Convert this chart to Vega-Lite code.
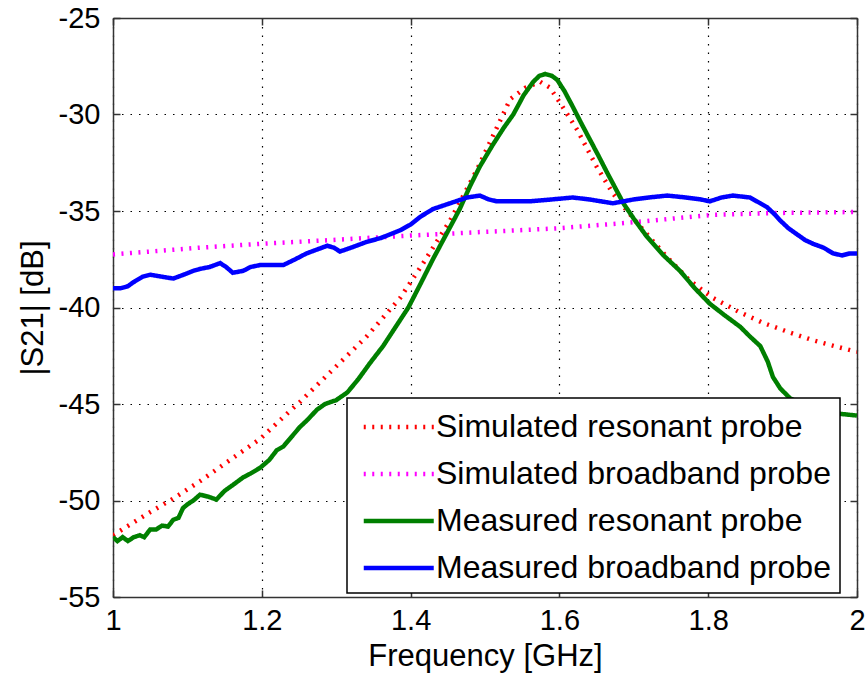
{
  "$schema": "https://vega.github.io/schema/vega-lite/v6.json",
  "width": 744,
  "height": 579,
  "autosize": "none",
  "padding": {"left": 113, "top": 18, "right": 11, "bottom": 83},
  "background": "white",
  "config": {
    "font": "Liberation Sans",
    "view": {"stroke": null},
    "axis": {
      "domainColor": "#333333",
      "domainWidth": 1.5,
      "tickColor": "#333333",
      "tickWidth": 1.5,
      "labelColor": "black",
      "titleColor": "black",
      "titleFontWeight": "normal",
      "labelFont": "Liberation Sans",
      "titleFont": "Liberation Sans"
    }
  },
  "datasets": {
    "curves": [
      {"series": "Simulated resonant probe", "f": 1.000, "s21": -51.8},
      {"series": "Simulated resonant probe", "f": 1.050, "s21": -50.6},
      {"series": "Simulated resonant probe", "f": 1.081, "s21": -49.9},
      {"series": "Simulated resonant probe", "f": 1.117, "s21": -49.0},
      {"series": "Simulated resonant probe", "f": 1.161, "s21": -47.8},
      {"series": "Simulated resonant probe", "f": 1.198, "s21": -46.8},
      {"series": "Simulated resonant probe", "f": 1.234, "s21": -45.5},
      {"series": "Simulated resonant probe", "f": 1.251, "s21": -44.9},
      {"series": "Simulated resonant probe", "f": 1.296, "s21": -43.2},
      {"series": "Simulated resonant probe", "f": 1.341, "s21": -41.5},
      {"series": "Simulated resonant probe", "f": 1.386, "s21": -39.5},
      {"series": "Simulated resonant probe", "f": 1.417, "s21": -37.7},
      {"series": "Simulated resonant probe", "f": 1.453, "s21": -35.5},
      {"series": "Simulated resonant probe", "f": 1.490, "s21": -32.8},
      {"series": "Simulated resonant probe", "f": 1.534, "s21": -29.2},
      {"series": "Simulated resonant probe", "f": 1.555, "s21": -28.6},
      {"series": "Simulated resonant probe", "f": 1.574, "s21": -28.3},
      {"series": "Simulated resonant probe", "f": 1.587, "s21": -28.6},
      {"series": "Simulated resonant probe", "f": 1.601, "s21": -29.4},
      {"series": "Simulated resonant probe", "f": 1.624, "s21": -30.8},
      {"series": "Simulated resonant probe", "f": 1.650, "s21": -32.7},
      {"series": "Simulated resonant probe", "f": 1.672, "s21": -34.1},
      {"series": "Simulated resonant probe", "f": 1.704, "s21": -35.6},
      {"series": "Simulated resonant probe", "f": 1.745, "s21": -37.4},
      {"series": "Simulated resonant probe", "f": 1.775, "s21": -38.6},
      {"series": "Simulated resonant probe", "f": 1.806, "s21": -39.5},
      {"series": "Simulated resonant probe", "f": 1.840, "s21": -40.2},
      {"series": "Simulated resonant probe", "f": 1.874, "s21": -40.8},
      {"series": "Simulated resonant probe", "f": 1.910, "s21": -41.3},
      {"series": "Simulated resonant probe", "f": 1.941, "s21": -41.7},
      {"series": "Simulated resonant probe", "f": 1.970, "s21": -42.0},
      {"series": "Simulated resonant probe", "f": 2.000, "s21": -42.3},

      {"series": "Simulated broadband probe", "f": 1.000, "s21": -37.25},
      {"series": "Simulated broadband probe", "f": 1.050, "s21": -37.1},
      {"series": "Simulated broadband probe", "f": 1.117, "s21": -36.9},
      {"series": "Simulated broadband probe", "f": 1.198, "s21": -36.7},
      {"series": "Simulated broadband probe", "f": 1.296, "s21": -36.5},
      {"series": "Simulated broadband probe", "f": 1.386, "s21": -36.3},
      {"series": "Simulated broadband probe", "f": 1.490, "s21": -36.1},
      {"series": "Simulated broadband probe", "f": 1.597, "s21": -35.9},
      {"series": "Simulated broadband probe", "f": 1.695, "s21": -35.6},
      {"series": "Simulated broadband probe", "f": 1.806, "s21": -35.2},
      {"series": "Simulated broadband probe", "f": 1.897, "s21": -35.1},
      {"series": "Simulated broadband probe", "f": 2.000, "s21": -35.05},

      {"series": "Measured resonant probe", "f": 1.000, "s21": -51.9},
      {"series": "Measured resonant probe", "f": 1.006, "s21": -52.1},
      {"series": "Measured resonant probe", "f": 1.013, "s21": -51.9},
      {"series": "Measured resonant probe", "f": 1.020, "s21": -52.1},
      {"series": "Measured resonant probe", "f": 1.028, "s21": -51.9},
      {"series": "Measured resonant probe", "f": 1.036, "s21": -51.8},
      {"series": "Measured resonant probe", "f": 1.042, "s21": -51.9},
      {"series": "Measured resonant probe", "f": 1.050, "s21": -51.5},
      {"series": "Measured resonant probe", "f": 1.058, "s21": -51.5},
      {"series": "Measured resonant probe", "f": 1.066, "s21": -51.3},
      {"series": "Measured resonant probe", "f": 1.074, "s21": -51.35},
      {"series": "Measured resonant probe", "f": 1.081, "s21": -51.0},
      {"series": "Measured resonant probe", "f": 1.088, "s21": -50.9},
      {"series": "Measured resonant probe", "f": 1.094, "s21": -50.4},
      {"series": "Measured resonant probe", "f": 1.100, "s21": -50.2},
      {"series": "Measured resonant probe", "f": 1.108, "s21": -50.0},
      {"series": "Measured resonant probe", "f": 1.117, "s21": -49.7},
      {"series": "Measured resonant probe", "f": 1.128, "s21": -49.8},
      {"series": "Measured resonant probe", "f": 1.139, "s21": -49.95},
      {"series": "Measured resonant probe", "f": 1.150, "s21": -49.5},
      {"series": "Measured resonant probe", "f": 1.161, "s21": -49.2},
      {"series": "Measured resonant probe", "f": 1.175, "s21": -48.8},
      {"series": "Measured resonant probe", "f": 1.185, "s21": -48.6},
      {"series": "Measured resonant probe", "f": 1.198, "s21": -48.3},
      {"series": "Measured resonant probe", "f": 1.210, "s21": -47.9},
      {"series": "Measured resonant probe", "f": 1.220, "s21": -47.4},
      {"series": "Measured resonant probe", "f": 1.229, "s21": -47.2},
      {"series": "Measured resonant probe", "f": 1.240, "s21": -46.7},
      {"series": "Measured resonant probe", "f": 1.251, "s21": -46.2},
      {"series": "Measured resonant probe", "f": 1.262, "s21": -45.8},
      {"series": "Measured resonant probe", "f": 1.274, "s21": -45.3},
      {"series": "Measured resonant probe", "f": 1.285, "s21": -45.0},
      {"series": "Measured resonant probe", "f": 1.300, "s21": -44.8},
      {"series": "Measured resonant probe", "f": 1.315, "s21": -44.4},
      {"series": "Measured resonant probe", "f": 1.330, "s21": -43.7},
      {"series": "Measured resonant probe", "f": 1.345, "s21": -42.9},
      {"series": "Measured resonant probe", "f": 1.363, "s21": -42.0},
      {"series": "Measured resonant probe", "f": 1.380, "s21": -41.0},
      {"series": "Measured resonant probe", "f": 1.397, "s21": -40.0},
      {"series": "Measured resonant probe", "f": 1.413, "s21": -38.8},
      {"series": "Measured resonant probe", "f": 1.430, "s21": -37.5},
      {"series": "Measured resonant probe", "f": 1.448, "s21": -36.2},
      {"series": "Measured resonant probe", "f": 1.466, "s21": -34.9},
      {"series": "Measured resonant probe", "f": 1.480, "s21": -33.7},
      {"series": "Measured resonant probe", "f": 1.493, "s21": -32.7},
      {"series": "Measured resonant probe", "f": 1.510, "s21": -31.6},
      {"series": "Measured resonant probe", "f": 1.525, "s21": -30.7},
      {"series": "Measured resonant probe", "f": 1.538, "s21": -30.0},
      {"series": "Measured resonant probe", "f": 1.552, "s21": -29.0},
      {"series": "Measured resonant probe", "f": 1.565, "s21": -28.3},
      {"series": "Measured resonant probe", "f": 1.573, "s21": -28.0},
      {"series": "Measured resonant probe", "f": 1.581, "s21": -27.9},
      {"series": "Measured resonant probe", "f": 1.590, "s21": -28.0},
      {"series": "Measured resonant probe", "f": 1.597, "s21": -28.2},
      {"series": "Measured resonant probe", "f": 1.607, "s21": -28.8},
      {"series": "Measured resonant probe", "f": 1.618, "s21": -29.6},
      {"series": "Measured resonant probe", "f": 1.630, "s21": -30.5},
      {"series": "Measured resonant probe", "f": 1.641, "s21": -31.3},
      {"series": "Measured resonant probe", "f": 1.652, "s21": -32.1},
      {"series": "Measured resonant probe", "f": 1.664, "s21": -33.0},
      {"series": "Measured resonant probe", "f": 1.675, "s21": -33.8},
      {"series": "Measured resonant probe", "f": 1.686, "s21": -34.6},
      {"series": "Measured resonant probe", "f": 1.700, "s21": -35.4},
      {"series": "Measured resonant probe", "f": 1.717, "s21": -36.3},
      {"series": "Measured resonant probe", "f": 1.740, "s21": -37.3},
      {"series": "Measured resonant probe", "f": 1.762, "s21": -38.1},
      {"series": "Measured resonant probe", "f": 1.782, "s21": -39.0},
      {"series": "Measured resonant probe", "f": 1.802, "s21": -39.8},
      {"series": "Measured resonant probe", "f": 1.822, "s21": -40.4},
      {"series": "Measured resonant probe", "f": 1.843, "s21": -41.0},
      {"series": "Measured resonant probe", "f": 1.856, "s21": -41.5},
      {"series": "Measured resonant probe", "f": 1.870, "s21": -42.0},
      {"series": "Measured resonant probe", "f": 1.880, "s21": -42.8},
      {"series": "Measured resonant probe", "f": 1.887, "s21": -43.6},
      {"series": "Measured resonant probe", "f": 1.897, "s21": -44.2},
      {"series": "Measured resonant probe", "f": 1.910, "s21": -44.7},
      {"series": "Measured resonant probe", "f": 1.930, "s21": -45.1},
      {"series": "Measured resonant probe", "f": 1.950, "s21": -45.3},
      {"series": "Measured resonant probe", "f": 1.975, "s21": -45.5},
      {"series": "Measured resonant probe", "f": 2.000, "s21": -45.6},

      {"series": "Measured broadband probe", "f": 1.000, "s21": -39.0},
      {"series": "Measured broadband probe", "f": 1.010, "s21": -39.0},
      {"series": "Measured broadband probe", "f": 1.020, "s21": -38.9},
      {"series": "Measured broadband probe", "f": 1.027, "s21": -38.7},
      {"series": "Measured broadband probe", "f": 1.040, "s21": -38.4},
      {"series": "Measured broadband probe", "f": 1.050, "s21": -38.3},
      {"series": "Measured broadband probe", "f": 1.065, "s21": -38.4},
      {"series": "Measured broadband probe", "f": 1.081, "s21": -38.5},
      {"series": "Measured broadband probe", "f": 1.095, "s21": -38.3},
      {"series": "Measured broadband probe", "f": 1.108, "s21": -38.1},
      {"series": "Measured broadband probe", "f": 1.117, "s21": -38.0},
      {"series": "Measured broadband probe", "f": 1.130, "s21": -37.9},
      {"series": "Measured broadband probe", "f": 1.144, "s21": -37.7},
      {"series": "Measured broadband probe", "f": 1.152, "s21": -37.9},
      {"series": "Measured broadband probe", "f": 1.161, "s21": -38.2},
      {"series": "Measured broadband probe", "f": 1.175, "s21": -38.1},
      {"series": "Measured broadband probe", "f": 1.185, "s21": -37.9},
      {"series": "Measured broadband probe", "f": 1.198, "s21": -37.8},
      {"series": "Measured broadband probe", "f": 1.212, "s21": -37.8},
      {"series": "Measured broadband probe", "f": 1.229, "s21": -37.8},
      {"series": "Measured broadband probe", "f": 1.245, "s21": -37.5},
      {"series": "Measured broadband probe", "f": 1.260, "s21": -37.2},
      {"series": "Measured broadband probe", "f": 1.274, "s21": -37.0},
      {"series": "Measured broadband probe", "f": 1.288, "s21": -36.8},
      {"series": "Measured broadband probe", "f": 1.297, "s21": -36.9},
      {"series": "Measured broadband probe", "f": 1.305, "s21": -37.1},
      {"series": "Measured broadband probe", "f": 1.320, "s21": -36.9},
      {"series": "Measured broadband probe", "f": 1.341, "s21": -36.6},
      {"series": "Measured broadband probe", "f": 1.360, "s21": -36.4},
      {"series": "Measured broadband probe", "f": 1.386, "s21": -36.0},
      {"series": "Measured broadband probe", "f": 1.400, "s21": -35.7},
      {"series": "Measured broadband probe", "f": 1.413, "s21": -35.3},
      {"series": "Measured broadband probe", "f": 1.430, "s21": -34.9},
      {"series": "Measured broadband probe", "f": 1.453, "s21": -34.6},
      {"series": "Measured broadband probe", "f": 1.476, "s21": -34.3},
      {"series": "Measured broadband probe", "f": 1.493, "s21": -34.2},
      {"series": "Measured broadband probe", "f": 1.505, "s21": -34.4},
      {"series": "Measured broadband probe", "f": 1.516, "s21": -34.5},
      {"series": "Measured broadband probe", "f": 1.540, "s21": -34.5},
      {"series": "Measured broadband probe", "f": 1.560, "s21": -34.5},
      {"series": "Measured broadband probe", "f": 1.590, "s21": -34.4},
      {"series": "Measured broadband probe", "f": 1.618, "s21": -34.3},
      {"series": "Measured broadband probe", "f": 1.640, "s21": -34.4},
      {"series": "Measured broadband probe", "f": 1.672, "s21": -34.6},
      {"series": "Measured broadband probe", "f": 1.700, "s21": -34.4},
      {"series": "Measured broadband probe", "f": 1.720, "s21": -34.3},
      {"series": "Measured broadband probe", "f": 1.745, "s21": -34.2},
      {"series": "Measured broadband probe", "f": 1.770, "s21": -34.3},
      {"series": "Measured broadband probe", "f": 1.790, "s21": -34.4},
      {"series": "Measured broadband probe", "f": 1.802, "s21": -34.5},
      {"series": "Measured broadband probe", "f": 1.818, "s21": -34.3},
      {"series": "Measured broadband probe", "f": 1.833, "s21": -34.2},
      {"series": "Measured broadband probe", "f": 1.856, "s21": -34.3},
      {"series": "Measured broadband probe", "f": 1.870, "s21": -34.6},
      {"series": "Measured broadband probe", "f": 1.879, "s21": -34.8},
      {"series": "Measured broadband probe", "f": 1.890, "s21": -35.2},
      {"series": "Measured broadband probe", "f": 1.897, "s21": -35.5},
      {"series": "Measured broadband probe", "f": 1.908, "s21": -35.9},
      {"series": "Measured broadband probe", "f": 1.919, "s21": -36.2},
      {"series": "Measured broadband probe", "f": 1.930, "s21": -36.5},
      {"series": "Measured broadband probe", "f": 1.941, "s21": -36.7},
      {"series": "Measured broadband probe", "f": 1.955, "s21": -36.9},
      {"series": "Measured broadband probe", "f": 1.968, "s21": -37.2},
      {"series": "Measured broadband probe", "f": 1.980, "s21": -37.3},
      {"series": "Measured broadband probe", "f": 1.990, "s21": -37.2},
      {"series": "Measured broadband probe", "f": 2.000, "s21": -37.2}
    ]
  },
  "data": {"name": "curves"},
  "layer": [
    {
      "mark": {"type": "line", "strokeWidth": 4.5, "strokeCap": "butt", "clip": true},
      "encoding": {
        "x": {
          "field": "f", "type": "quantitative",
          "scale": {"domain": [1, 2], "nice": false, "zero": false},
          "axis": {
            "orient": "bottom",
            "title": "Frequency [GHz]",
            "titleFontSize": 31,
            "titlePadding": 6,
            "values": [1, 1.2, 1.4, 1.6, 1.8, 2],
            "format": "~g",
            "labelFontSize": 29,
            "labelPadding": 16,
            "labelFlush": false,
            "labelOverlap": false,
            "tickSize": -7,
            "grid": true,
            "gridColor": "black",
            "gridDash": [1.5, 7],
            "gridWidth": 1.2
          }
        },
        "y": {
          "field": "s21", "type": "quantitative",
          "scale": {"domain": [-55, -25], "nice": false, "zero": false},
          "axis": {
            "orient": "left",
            "title": "|S21| [dB]",
            "titleFontSize": 31,
            "titlePadding": 9,
            "values": [-55, -50, -45, -40, -35, -30, -25],
            "labelExpr": "'' + datum.value",
            "labelFontSize": 29,
            "labelPadding": 20,
            "labelFlush": false,
            "labelOverlap": false,
            "tickSize": -7,
            "grid": true,
            "gridColor": "black",
            "gridDash": [1.5, 7],
            "gridWidth": 1.2
          }
        },
        "color": {
          "field": "series", "type": "nominal",
          "scale": {
            "domain": ["Simulated resonant probe", "Simulated broadband probe", "Measured resonant probe", "Measured broadband probe"],
            "range": ["#ff0000", "#ff00ff", "#007f00", "#0000ff"]
          },
          "legend": {
            "title": null,
            "orient": "none",
            "legendX": 234,
            "legendY": 380,
            "direction": "vertical",
            "fillColor": "white",
            "strokeColor": "black",
            "padding": 9,
            "symbolType": "M-0.7,0H3.3",
            "symbolSize": 1225,
            "symbolStrokeWidth": 4.5,
            "labelFontSize": 32,
            "labelColor": "black",
            "labelFont": "Liberation Sans",
            "labelOffset": 40,
            "labelLimit": 600,
            "rowPadding": 11,
            "encode": {"legend": {"update": {"strokeWidth": {"value": 1.5}}}}
          }
        },
        "strokeDash": {
          "field": "series", "type": "nominal",
          "scale": {
            "domain": ["Simulated resonant probe", "Simulated broadband probe", "Measured resonant probe", "Measured broadband probe"],
            "range": [[2, 6.5], [2, 6.5], [1, 0], [1, 0]]
          },
          "legend": null
        },
        "order": {"field": "f", "type": "quantitative"}
      }
    },
    {
      "mark": {"type": "line", "opacity": 0},
      "encoding": {
        "x": {
          "field": "f", "type": "quantitative",
          "scale": {"domain": [1, 2], "nice": false, "zero": false},
          "axis": {
            "orient": "top", "title": null, "labels": false, "grid": false,
            "values": [1, 1.2, 1.4, 1.6, 1.8, 2], "tickSize": -7
          }
        },
        "y": {
          "field": "s21", "type": "quantitative",
          "scale": {"domain": [-55, -25], "nice": false, "zero": false},
          "axis": {
            "orient": "right", "title": null, "labels": false, "grid": false,
            "values": [-55, -50, -45, -40, -35, -30, -25], "tickSize": -7
          }
        },
        "detail": {"field": "series", "type": "nominal"}
      }
    }
  ],
  "resolve": {"axis": {"x": "independent", "y": "independent"}}
}
